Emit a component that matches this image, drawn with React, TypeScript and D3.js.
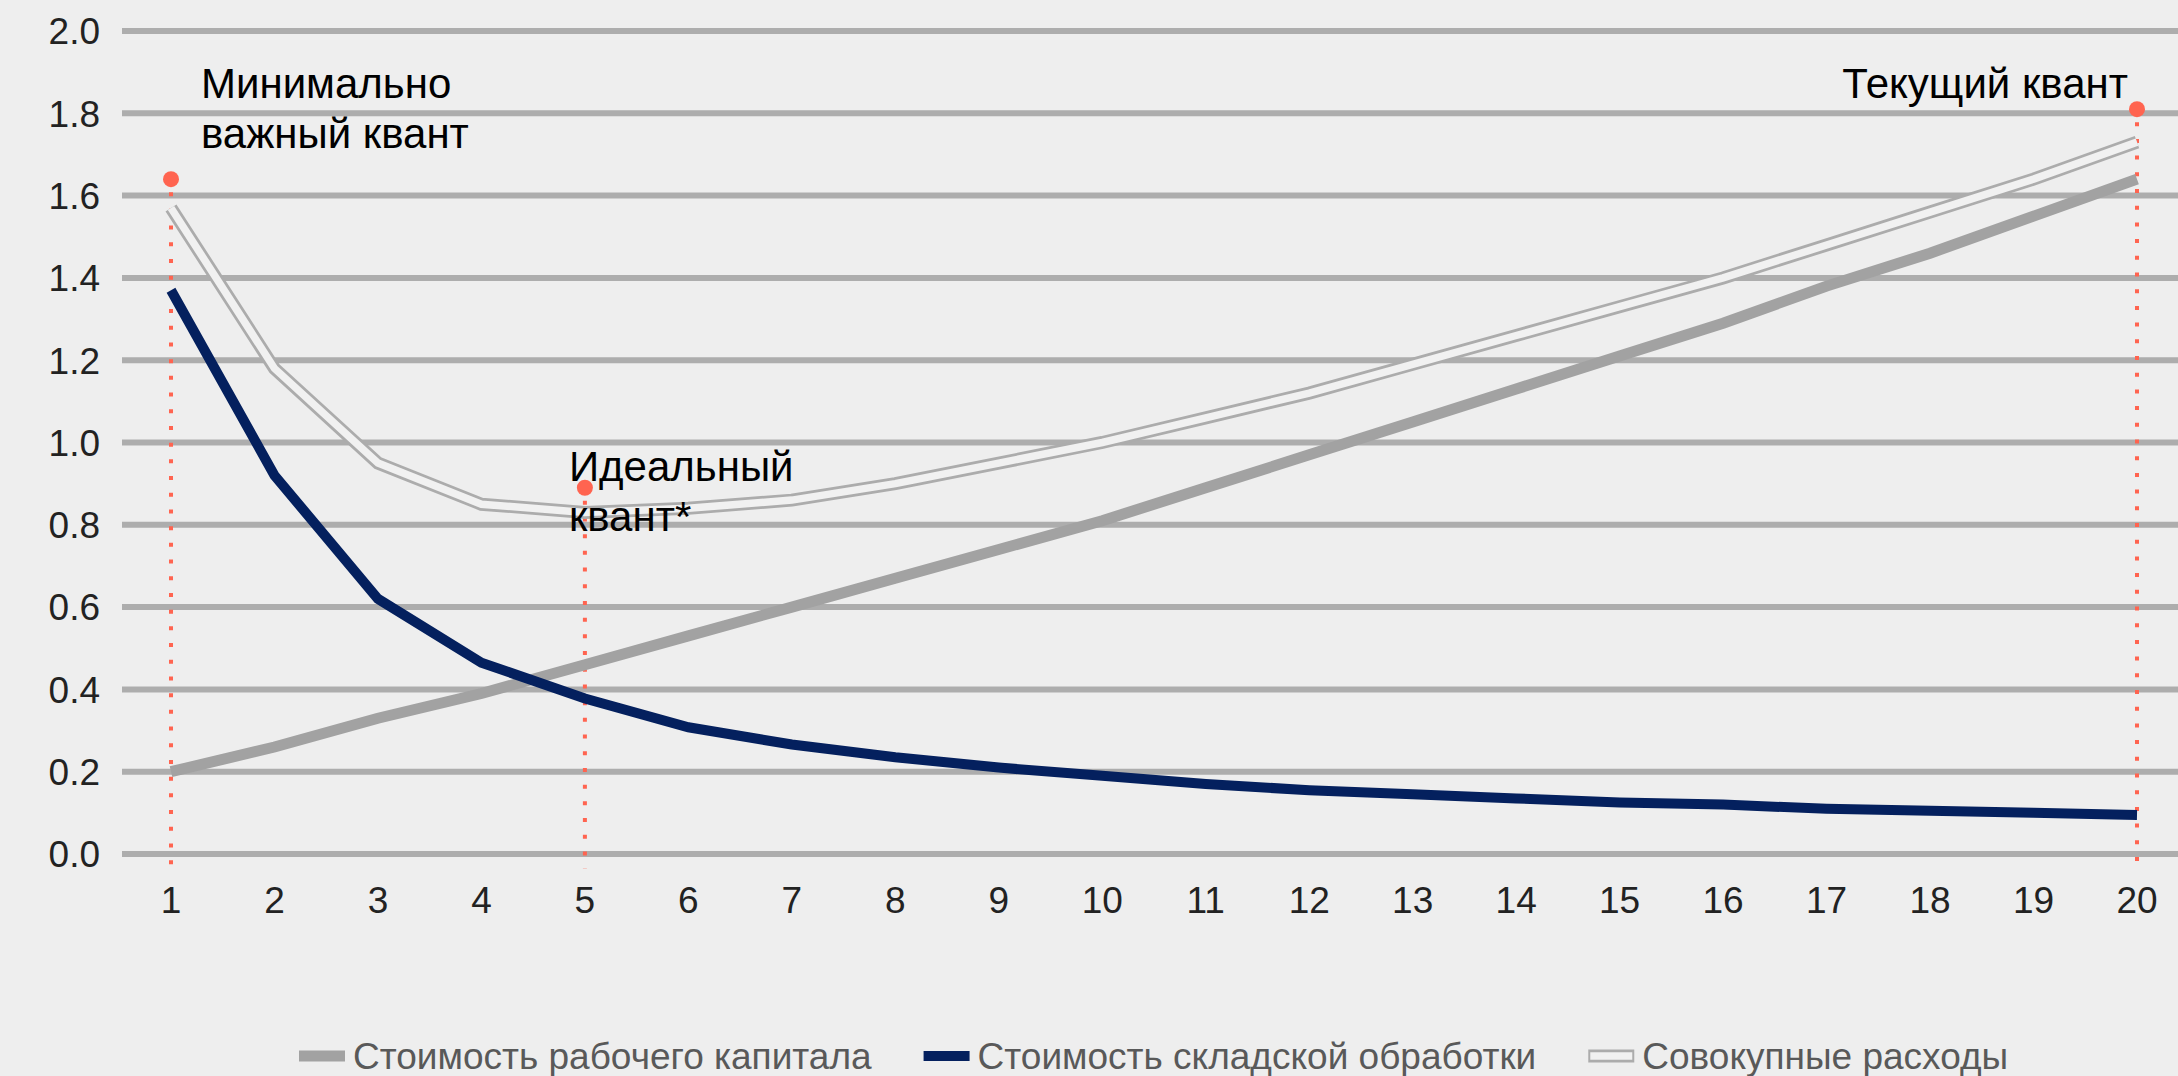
import { useEffect, useRef } from "react";
import * as d3 from "d3";

const WIDTH = 2178;
const HEIGHT = 1076;

const quanta = [1, 2, 3, 4, 5, 6, 7, 8, 9, 10, 11, 12, 13, 14, 15, 16, 17, 18, 19, 20];
const workingCapital = [0.2, 0.26, 0.33, 0.39, 0.46, 0.53, 0.6, 0.67, 0.74, 0.81, 0.89, 0.97, 1.05, 1.13, 1.21, 1.29, 1.38, 1.46, 1.55, 1.64];
const handling = [1.37, 0.92, 0.62, 0.465, 0.378, 0.308, 0.266, 0.235, 0.21, 0.19, 0.17, 0.155, 0.145, 0.135, 0.125, 0.12, 0.11, 0.105, 0.1, 0.095];
const totalCost = [1.57, 1.18, 0.95, 0.85, 0.83, 0.84, 0.86, 0.9, 0.95, 1.0, 1.06, 1.12, 1.19, 1.26, 1.33, 1.4, 1.48, 1.56, 1.64, 1.73];
const yTicks = [0, 0.2, 0.4, 0.6, 0.8, 1.0, 1.2, 1.4, 1.6, 1.8, 2.0];

const seriesNames = ["Стоимость рабочего капитала", "Стоимость складской обработки", "Совокупные расходы"];

const markerQuanta = [1, 5, 20];
const markerValues = [1.64, 0.89, 1.81];
const markerLabels = [["Минимально", "важный квант"], ["Идеальный", "квант*"], ["Текущий квант"]];

const FONT = "'Liberation Sans', Arial, sans-serif";
const RED = "#ff6450";
const GRAY = "#a2a2a2";
const NAVY = "#04205e";

export default function App() {
  const svgRef = useRef<SVGSVGElement>(null);

  useEffect(() => {
    if (!svgRef.current) return;
    document.body.style.margin = "0";

    const x = d3.scaleLinear().domain([1, 20]).range([171, 2137]);
    const y = d3.scaleLinear().domain([0, 2]).range([854, 31]);

    const svg = d3.select(svgRef.current);
    svg.selectAll("*").remove();

    svg.append("rect").attr("width", WIDTH).attr("height", HEIGHT).attr("fill", "#eeeeee");

    // gridlines
    svg
      .append("g")
      .selectAll("line")
      .data(yTicks)
      .join("line")
      .attr("x1", 122)
      .attr("x2", WIDTH)
      .attr("y1", (d) => y(d))
      .attr("y2", (d) => y(d))
      .attr("stroke", "#adadad")
      .attr("stroke-width", 6);

    // y labels
    svg
      .append("g")
      .selectAll("text")
      .data(yTicks)
      .join("text")
      .attr("x", 100)
      .attr("y", (d) => y(d))
      .attr("dy", "0.36em")
      .attr("text-anchor", "end")
      .attr("font-family", FONT)
      .attr("font-size", 37)
      .attr("fill", "#222")
      .text((d) => d.toFixed(1));

    // x labels
    svg
      .append("g")
      .selectAll("text")
      .data(quanta)
      .join("text")
      .attr("x", (d) => x(d))
      .attr("y", 900)
      .attr("dy", "0.36em")
      .attr("text-anchor", "middle")
      .attr("font-family", FONT)
      .attr("font-size", 37)
      .attr("fill", "#222")
      .text((d) => String(d));

    // dotted marker lines
    svg
      .append("g")
      .selectAll("line")
      .data(markerQuanta)
      .join("line")
      .attr("x1", (d) => x(d))
      .attr("x2", (d) => x(d))
      .attr("y1", (_, i) => y(markerValues[i]) + 13)
      .attr("y2", y(-0.035))
      .attr("stroke", RED)
      .attr("stroke-width", 4)
      .attr("stroke-dasharray", "4 12.7");

    const line = d3
      .line<number>()
      .x((_, i) => x(quanta[i]))
      .y((d) => y(d));

    // total cost: double line
    svg.append("path").attr("d", line(totalCost)).attr("fill", "none")
      .attr("stroke", "#acacac").attr("stroke-width", 13);
    svg.append("path").attr("d", line(totalCost)).attr("fill", "none")
      .attr("stroke", "#f1f1f1").attr("stroke-width", 7.5);

    svg.append("path").attr("d", line(workingCapital)).attr("fill", "none")
      .attr("stroke", GRAY).attr("stroke-width", 11);

    svg.append("path").attr("d", line(handling)).attr("fill", "none")
      .attr("stroke", NAVY).attr("stroke-width", 10);

    // marker dots
    svg
      .append("g")
      .selectAll("circle")
      .data(markerQuanta)
      .join("circle")
      .attr("cx", (d) => x(d))
      .attr("cy", (_, i) => y(markerValues[i]))
      .attr("r", 8)
      .attr("fill", RED);

    // annotations
    const ann = svg.append("g").attr("font-family", FONT).attr("font-size", 42).attr("fill", "#000");
    const a0 = ann.append("text").attr("x", x(markerQuanta[0]) + 30).attr("y", 98);
    markerLabels[0].forEach((t, i) => a0.append("tspan").attr("x", x(markerQuanta[0]) + 30).attr("dy", i === 0 ? 0 : 50).text(t));
    const a1 = ann.append("text").attr("x", x(markerQuanta[1]) - 16).attr("y", y(markerValues[1]) - 7);
    markerLabels[1].forEach((t, i) => a1.append("tspan").attr("x", x(markerQuanta[1]) - 16).attr("dy", i === 0 ? 0 : 50).text(t));
    ann.append("text").attr("x", x(markerQuanta[2]) - 9).attr("y", 98).attr("text-anchor", "end").text(markerLabels[2][0]);

    // legend
    const legend = svg.append("g").attr("font-family", FONT).attr("font-size", 37).attr("fill", "#595959");
    let lx = 299;
    const ly = 1056;
    seriesNames.forEach((name, i) => {
      if (i === 0) {
        legend.append("line").attr("x1", lx).attr("x2", lx + 46).attr("y1", ly).attr("y2", ly)
          .attr("stroke", GRAY).attr("stroke-width", 11);
      } else if (i === 1) {
        legend.append("line").attr("x1", lx).attr("x2", lx + 46).attr("y1", ly).attr("y2", ly)
          .attr("stroke", NAVY).attr("stroke-width", 10);
      } else {
        legend.append("line").attr("x1", lx).attr("x2", lx + 46).attr("y1", ly).attr("y2", ly)
          .attr("stroke", "#acacac").attr("stroke-width", 13);
        legend.append("line").attr("x1", lx + 2).attr("x2", lx + 44).attr("y1", ly).attr("y2", ly)
          .attr("stroke", "#f1f1f1").attr("stroke-width", 7.5);
      }
      const t = legend.append("text").attr("x", lx + 54).attr("y", ly).attr("dy", "0.36em").text(name);
      const w = (t.node() as SVGTextElement).getComputedTextLength();
      lx = lx + 54 + w + 52;
    });
  }, []);

  return (
    <svg
      ref={svgRef}
      width={WIDTH}
      height={HEIGHT}
      style={{ position: "absolute", left: 0, top: 0, display: "block" }}
    />
  );
}
